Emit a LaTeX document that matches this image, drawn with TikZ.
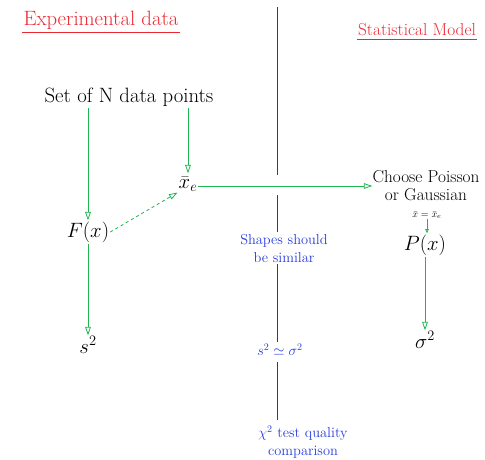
\documentclass[tikz,border=0pt]{standalone}
\usepackage{xcolor}
\usepackage{tikz}
\usetikzlibrary{arrows.meta, positioning, calc}
\usepackage{amsmath}

\definecolor{greenhand}{RGB}{30,180,80}
\definecolor{redhand}{RGB}{235,40,50}
\definecolor{bluehand}{RGB}{40,60,220}

\begin{document}
\begin{tikzpicture}[x=1pt, y=-1pt,
    txt/.style={font=\huge, inner sep=1pt, align=center},
    head/.style={font=\huge, text=redhand, inner sep=1pt},
    note/.style={font=\Large, text=bluehand, align=center, inner sep=2pt},
    arrow/.style={-{Triangle[open, length=3mm, width=2mm]}, draw=greenhand, thick},
    divider/.style={draw=black!75, thick}
]
\useasboundingbox (0,0) rectangle (485,459);

% headings
\node[head] (exp) at (101,20) {Experimental data};
\node[head, font=\LARGE] (stat) at (417,30) {Statistical Model};
\draw[redhand, thick] ([yshift=-2pt]exp.south west) -- ([yshift=-2pt]exp.south east);
\draw[redhand, thick] ([yshift=-2pt]stat.south west) -- ([yshift=-2pt]stat.south east);

% experimental side
\node[txt] (set) at (129,97) {Set of N data points};
\node[txt] (fx) at (88,232) {$F(x)$};
\node[txt] (xe) at (188,184) {$\bar{x}_e$};
\node[txt] (s2) at (88,345) {$s^2$};

% model side
\node[txt, font=\LARGE, inner sep=0pt] (choose) at (426,186) {Choose Poisson\\[-4pt]or Gaussian};
\node[font=\normalsize, inner sep=0pt] (xbar) at (427,215) {$\bar{x}=\bar{x}_e$};
\node[txt] (px) at (425,245) {$P(x)$};
\node[txt] (sig) at (425,340) {$\sigma^2$};

% comparison notes
\node[note] (shapes) at (284,248) {Shapes should\\be similar};
\node[note] (sim) at (280,350) {$s^2\simeq\sigma^2$};
\node[note] (chi) at (303,442) {$\chi^2$ test quality\\comparison};

% arrows
\draw[arrow, shorten >=2pt] (xe |- set.south) -- (xe.north);
\draw[arrow] (fx |- set.south) -- (fx.north);
\draw[arrow, dashed] (fx.east) -- (xe.south west);
\draw[arrow] (xe.east |- choose.west) -- (choose.west);
\draw[draw=greenhand, thick, -{Triangle[open, length=1.5mm, width=1.2mm]}] (xbar.south) -- (xbar.south |- px.north);
\draw[arrow] (fx.south) -- (s2.north);
\draw[arrow] (px.south) -- (px.south |- sig.north);

% dividing line
\coordinate (top) at (277,7);
\draw[divider] (top) -- ($(top |- choose.west)+(0,-11)$);
\draw[divider] ($(top |- choose.west)+(0,9)$) -- (top |- shapes.north);
\draw[divider] (top |- shapes.south) -- (top |- sim.north);
\draw[divider] ([yshift=-4pt]top |- sim.south) -- ([yshift=4pt]top |- chi.north);

\end{tikzpicture}
\end{document}
